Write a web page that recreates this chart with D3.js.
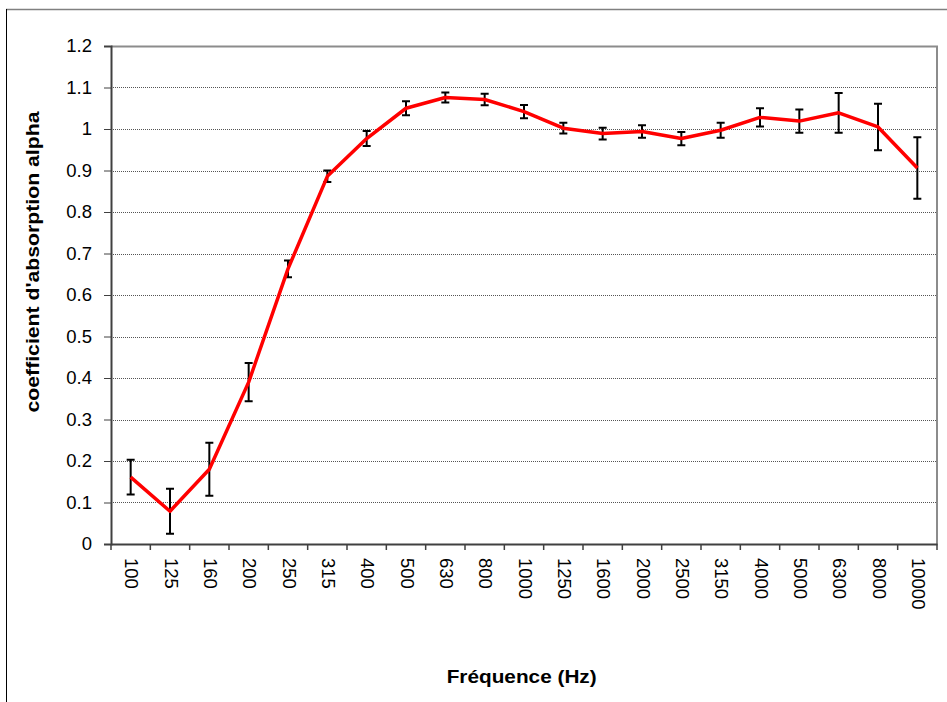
<!DOCTYPE html>
<html><head><meta charset="utf-8">
<script src="https://cdn.jsdelivr.net/npm/d3@7"></script>
<style>body{margin:0;background:#fff}svg{display:block}</style>
</head><body>
<svg id="c" width="947" height="702"></svg>
<script>
const categories = ["100","125","160","200","250","315","400","500","630","800","1000","1250","1600","2000","2500","3150","4000","5000","6300","8000","10000"];
const alpha = [0.161,0.079,0.180,0.390,0.663,0.886,0.977,1.050,1.076,1.071,1.042,1.002,0.989,0.994,0.977,0.997,1.028,1.019,1.039,1.005,0.906];
const errors = [0.042,0.054,0.064,0.046,0.020,0.014,0.018,0.017,0.012,0.014,0.016,0.013,0.014,0.015,0.016,0.018,0.022,0.028,0.048,0.056,0.074];
const yTicks = [0,0.1,0.2,0.3,0.4,0.5,0.6,0.7,0.8,0.9,1,1.1,1.2];

const svg = d3.select("#c");
const L=111, R=937, T=46, B=544;
const font = "'Liberation Sans', Arial, sans-serif";

// outer chart border
svg.append("line").attr("x1",6).attr("x2",947).attr("y1",9.5).attr("y2",9.5).attr("stroke","#808080").attr("stroke-width",1.5);
svg.append("line").attr("x1",6.5).attr("x2",6.5).attr("y1",9).attr("y2",702).attr("stroke","#000").attr("stroke-width",1);

const x = d3.scaleBand().domain(categories).range([L,R]);
const y = d3.scaleLinear().domain([0,1.2]).range([B,T]);

// gridlines
svg.append("g").selectAll("line").data(yTicks.filter(d=>d>0&&d<1.2)).join("line")
  .attr("x1",L).attr("x2",R).attr("y1",d=>Math.round(y(d))+0.5).attr("y2",d=>Math.round(y(d))+0.5)
  .attr("stroke","#555").attr("stroke-width",1).attr("stroke-dasharray","1,1");

// plot border top/right
svg.append("path").attr("d",`M${L},${T+0.5}H${R}V${B}`).attr("fill","none").attr("stroke","#8c8c8c").attr("stroke-width",2);

// y axis
const yAxis = d3.axisLeft(y).tickValues(yTicks).tickSize(7).tickPadding(12).tickFormat(d=>String(d));
const gy = svg.append("g").attr("transform",`translate(${L},0)`).call(yAxis);
gy.select(".domain").attr("stroke","#404040").attr("stroke-width",2);
gy.selectAll(".tick line").attr("stroke","#404040");
gy.selectAll("text").attr("font-family",font).attr("font-size",18.5).attr("fill","#000");

// x axis
const xAxis = d3.axisBottom(x).tickSize(0).tickFormat(d=>d);
const gx = svg.append("g").attr("transform",`translate(0,${B})`).call(xAxis);
gx.select(".domain").attr("stroke","#404040").attr("stroke-width",2);
gx.selectAll(".tick text").attr("font-family",font).attr("font-size",18.5).attr("fill","#000")
  .attr("text-anchor","start").attr("dy","0.35em").attr("y",0)
  .attr("transform","translate(1,14) rotate(90)");
// boundary ticks
const bounds = categories.map(c=>x(c)).concat([R]);
svg.append("g").selectAll("line").data(bounds).join("line")
  .attr("x1",d=>d).attr("x2",d=>d).attr("y1",B).attr("y2",B+6).attr("stroke","#404040").attr("stroke-width",1.5);

const cx = d=>x(d)+x.bandwidth()/2;

// error bars
const eb = svg.append("g").attr("stroke","#000").attr("stroke-width",2).attr("fill","none");
eb.selectAll("path").data(categories).join("path")
  .attr("d",(c,i)=>{
    const xc=cx(c), y1=y(alpha[i]+errors[i]), y2=y(alpha[i]-errors[i]);
    return `M${xc-4},${y1}H${xc+4}M${xc},${y1}V${y2}M${xc-4},${y2}H${xc+4}`;
  });

// line
const line = d3.line().x((d,i)=>cx(categories[i])).y(d=>y(d));
svg.append("path").datum(alpha).attr("d",line).attr("fill","none").attr("stroke","#ff0000").attr("stroke-width",3.5).attr("stroke-linejoin","round");

// titles
svg.append("text").attr("x",521.7).attr("y",683).attr("text-anchor","middle")
  .attr("font-family",font).attr("font-size",18.5).attr("font-weight","bold")
  .attr("textLength",150).attr("lengthAdjust","spacingAndGlyphs").text("Fréquence (Hz)");
svg.append("text").attr("transform","translate(38.5,262) rotate(-90)").attr("text-anchor","middle")
  .attr("font-family",font).attr("font-size",18).attr("font-weight","bold")
  .attr("textLength",301).attr("lengthAdjust","spacingAndGlyphs").text("coefficient d'absorption alpha");
</script>
</body></html>
